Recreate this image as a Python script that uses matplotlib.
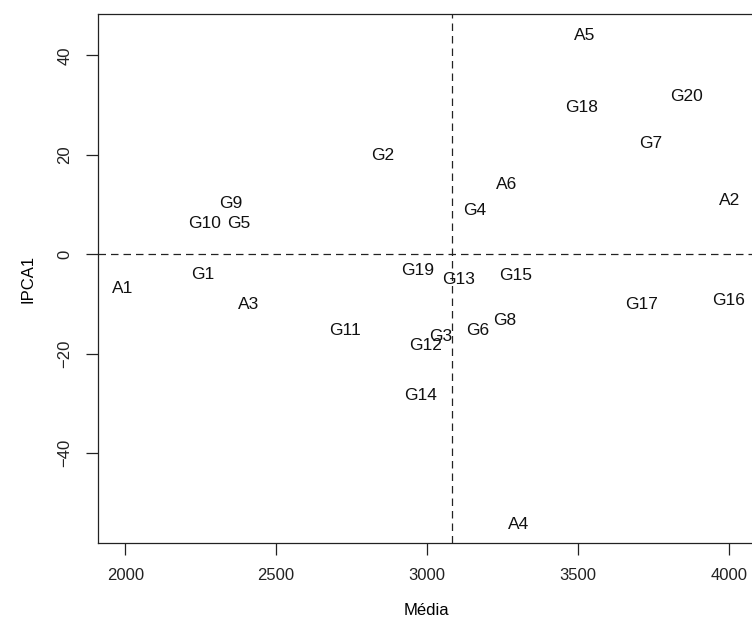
import numpy as np
import matplotlib
matplotlib.use("Agg")
import matplotlib.pyplot as plt

plt.rcParams['font.family'] = ['Liberation Sans', 'DejaVu Sans']

# AMMI1 biplot: environments (A) and genotypes (G)
labels = ['A1', 'A2', 'A3', 'A4', 'A5', 'A6',
          'G1', 'G2', 'G3', 'G4', 'G5', 'G6', 'G7', 'G8', 'G9', 'G10',
          'G11', 'G12', 'G13', 'G14', 'G15', 'G16', 'G17', 'G18', 'G19', 'G20']
media = [1990, 4003, 2407, 3305, 3523, 3265,
         2258, 2854, 3046, 3159, 2377, 3169, 3742, 3258, 2351, 2262,
         2729, 2994, 3106, 2980, 3295, 4000, 3712, 3513, 2970, 3861]
ipca1 = [-6.5, 11.1, -9.7, -54.1, 44.4, 14.3,
         -3.7, 20.1, -16.3, 9.2, 6.6, -15.1, 22.6, -12.9, 10.5, 6.6,
         -15.1, -18.1, -4.7, -28.0, -4.0, -8.9, -9.7, 29.8, -2.9, 32.0]

x = np.array(media)
y = np.array(ipca1)

fig = plt.figure(figsize=(7.52, 6.2), dpi=100)
ax = fig.add_axes([98 / 752, 77 / 620, 656 / 752, 529 / 620])

for lab, xi, yi in zip(labels, x, y):
    ax.text(xi, yi, lab, ha='center', va='center_baseline', fontsize=12.5, color='#111111')

ax.axhline(0, color='#222222', lw=0.9, ls=(0, (6, 4)))
ax.axvline(x.mean(), color='#222222', lw=0.9, ls=(0, (6, 4)))

# R style 4% padding
dx = (x.max() - x.min()) * 0.04
dy = (y.max() - y.min()) * 0.04
ax.set_xlim(x.min() - dx, x.max() + dx)
ax.set_ylim(y.min() - dy, y.max() + dy)

ax.set_xticks([2000, 2500, 3000, 3500, 4000])
ax.set_yticks([-40, -20, 0, 20, 40])
ax.set_yticklabels(['\u221240', '\u221220', '0', '20', '40'], rotation=90, va='center')
ax.tick_params(direction='out', length=8.3, width=0.9, labelsize=12, pad=10, colors='#222222')
for s in ax.spines.values():
    s.set_color('#222222')
    s.set_linewidth(0.9)

ax.set_xlabel('Média', fontsize=12, labelpad=14)
ax.set_ylabel('IPCA1', fontsize=12, labelpad=16)

fig.savefig('out.png', dpi=100)
